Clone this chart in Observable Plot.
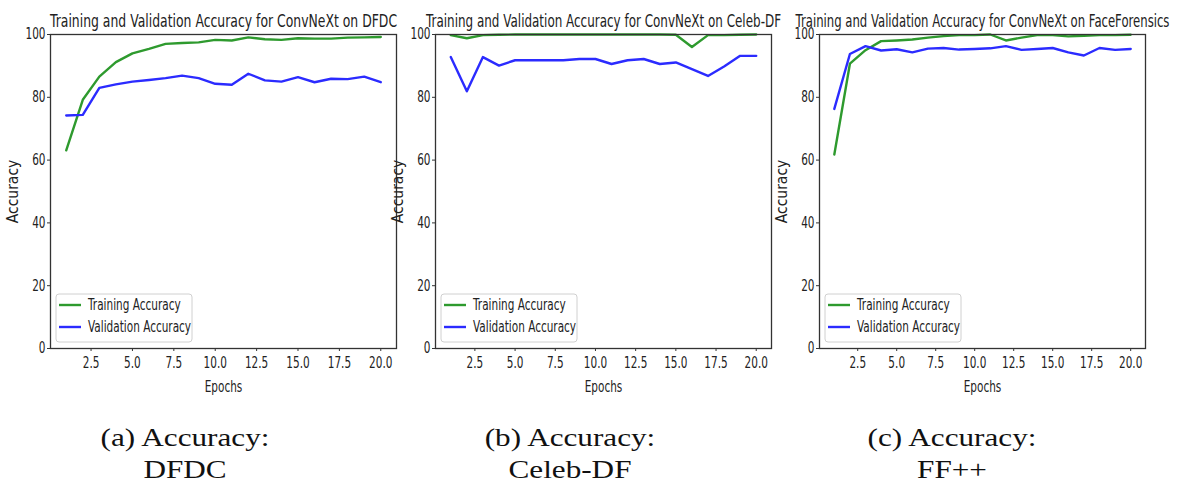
<!DOCTYPE html>
<html><head><meta charset="utf-8">
<script src="https://cdn.jsdelivr.net/npm/d3@7"></script>
<script src="https://cdn.jsdelivr.net/npm/@observablehq/plot@0.6"></script>
<style>
body{margin:0;background:#fff;width:1178px;height:484px;overflow:hidden;position:relative;}
.panel{position:absolute;top:0;}
.panel svg{overflow:visible;}
#captions{position:absolute;left:0;top:400px;overflow:visible;}
</style></head><body>
<div id="p1" class="panel" style="left:0px"></div>
<div id="p2" class="panel" style="left:385px"></div>
<div id="p3" class="panel" style="left:769px"></div>
<svg id="captions" width="1178" height="84"></svg>
<script>
const epochs = [1,2,3,4,5,6,7,8,9,10,11,12,13,14,15,16,17,18,19,20];
const xTicks = [2.5,5,7.5,10,12.5,15,17.5,20];
const yTicks = [0,20,40,60,80,100];
const seriesNames = ["Training Accuracy","Validation Accuracy"];
const seriesColors = ["#2e9a2e","#2b2bff"];

const dfdcTrain  = [63.1,79.2,86.6,91.2,94.0,95.4,97.0,97.3,97.5,98.3,98.1,99.1,98.5,98.3,98.8,98.7,98.7,99.0,99.1,99.2];
const dfdcVal    = [74.2,74.4,83.0,84.1,85.0,85.5,86.1,86.9,86.1,84.3,84.0,87.5,85.4,85.0,86.4,84.8,85.9,85.8,86.6,84.8];
const celebTrain = [99.8,98.8,99.8,99.9,100,100,100,100,100,100,100,100,100,100,99.9,96.0,99.8,99.8,99.9,100];
const celebVal   = [92.8,81.9,92.8,90.1,91.8,91.8,91.8,91.8,92.2,92.2,90.6,91.8,92.2,90.6,91.1,89.0,86.8,89.8,93.2,93.2];
const ffTrain    = [61.8,90.7,95.0,97.9,98.1,98.4,99.0,99.5,99.8,99.8,100,98.1,99.0,99.8,99.8,99.4,99.6,99.8,99.8,99.9];
const ffVal      = [76.3,93.8,96.3,94.9,95.3,94.3,95.5,95.7,95.2,95.4,95.6,96.3,95.1,95.4,95.7,94.3,93.3,95.7,95.1,95.4];

const titles = [
  "Training and Validation Accuracy for ConvNeXt on DFDC",
  "Training and Validation Accuracy for ConvNeXt on Celeb-DF",
  "Training and Validation Accuracy for ConvNeXt on FaceForensics"
];
const captionLine1 = ["(a) Accuracy:","(b) Accuracy:","(c) Accuracy:"];
const captionLine2 = ["DFDC","Celeb-DF","FF++"];

// horizontally squeeze a text element about its anchor point (matches the squashed raster of the original)
function squeeze(t, f) {
  if (t.dataset.sq) return;
  t.dataset.sq = "1";
  const x = parseFloat(t.getAttribute("x") || "0") || 0;
  const tr = t.getAttribute("transform") || "";
  t.setAttribute("transform", `${tr} translate(${x},0) scale(${f},1) translate(${-x},0)`.trim());
}
function condense(root, f) {
  root.querySelectorAll("text").forEach(t => squeeze(t, f));
}

function panel(id, title, train, val, plotWidth, marginRight, titleF) {
  const data = [];
  epochs.forEach((e, i) => {
    data.push({epoch: e, acc: train[i], s: seriesNames[0]});
    data.push({epoch: e, acc: val[i], s: seriesNames[1]});
  });
  const mT = 34, mB = 52, mL = 50, H = 400;
  const chart = Plot.plot({
    width: mL + plotWidth + marginRight, height: H,
    marginLeft: mL, marginRight, marginTop: mT, marginBottom: mB,
    x: {domain: [0.05, 20.95]},
    y: {domain: [0, 100]},
    color: {domain: seriesNames, range: seriesColors},
    style: {fontFamily: "DejaVu Sans", fontSize: "15px", color: "#222", background: "transparent", overflow: "visible"},
    marks: [
      Plot.axisY({ticks: yTicks, tickSize: 3, tickPadding: 2, label: "Accuracy", labelAnchor: "center", labelArrow: "none", labelOffset: 43, stroke: "#333"}),
      Plot.axisX({ticks: xTicks, tickFormat: d => d.toFixed(1), tickSize: 3, tickPadding: 6, label: "Epochs", labelAnchor: "center", labelArrow: "none", labelOffset: 43, stroke: "#333"}),
      Plot.line(data, {x: "epoch", y: "acc", z: "s", stroke: "s", strokeWidth: 2.4}),
      Plot.frame({stroke: "#333", strokeWidth: 1.3}),
      Plot.text([title], {frameAnchor: "top", lineAnchor: "bottom", dy: -8, fontSize: 18, fill: "#222", className: "ttl"})
    ]
  });
  document.getElementById(id).appendChild(chart);
  // legend
  const svg = d3.select(chart);
  const g = svg.append("g").attr("transform", `translate(${mL + 6},${H - mB - 54})`)
    .style("font-family", "DejaVu Sans").style("font-size", "15px").attr("text-anchor", "start");
  g.append("rect").attr("width", 136).attr("height", 48).attr("rx", 3)
    .attr("fill", "white").attr("fill-opacity", 0.85).attr("stroke", "#d0d0d0");
  seriesNames.forEach((n, i) => {
    g.append("line").attr("x1", 3).attr("x2", 25).attr("y1", 11 + 22 * i).attr("y2", 11 + 22 * i)
      .attr("stroke", seriesColors[i]).attr("stroke-width", 2.4);
    g.append("text").attr("x", 32).attr("y", 16 + 22 * i).attr("fill", "#222").attr("text-anchor", "start").text(n);
  });
  chart.querySelectorAll(".ttl text").forEach(t => squeeze(t, titleF));
  chart.querySelectorAll('g[aria-label="y-axis label"] text').forEach(t => squeeze(t, 0.93));
  condense(chart, 0.7);
}

panel("p1", titles[0], dfdcTrain, dfdcVal, 346, 12, 0.69);
panel("p2", titles[1], celebTrain, celebVal, 336, 12, 0.665);
panel("p3", titles[2], ffTrain, ffVal, 326, 33, 0.648);

const cap = d3.select("#captions").style("font-family", "'Liberation Serif', serif").style("font-size", "26px").attr("fill", "#111");
const capX = [185, 570, 952];
capX.forEach((cx, i) => {
  cap.append("text").attr("x", cx).attr("y", 46).attr("text-anchor", "middle").text(captionLine1[i]);
  cap.append("text").attr("x", cx).attr("y", 78).attr("text-anchor", "middle").text(captionLine2[i]);
});
condense(document.getElementById("captions"), 1.2);
</script>
</body></html>
